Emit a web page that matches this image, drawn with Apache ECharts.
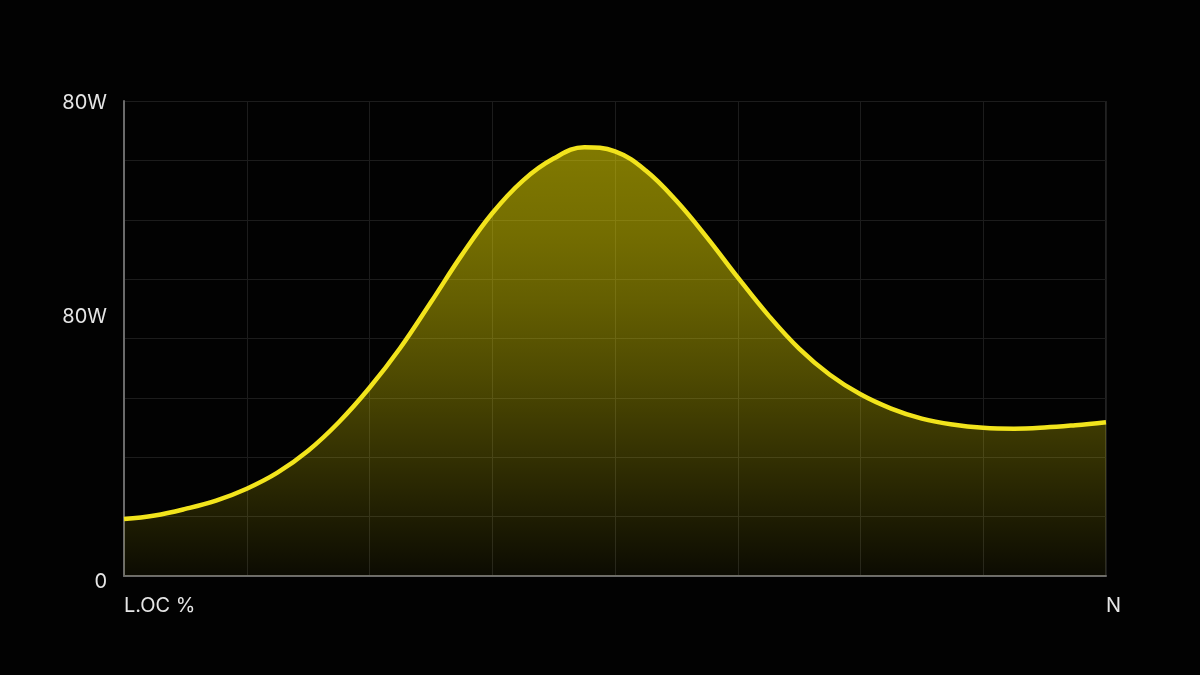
<!DOCTYPE html>
<html>
<head>
<meta charset="utf-8">
<style>
  html, body { margin: 0; padding: 0; background: #020202; }
  #chart { width: 1200px; height: 675px; }
</style>
<script src="https://cdn.jsdelivr.net/npm/echarts@6/dist/echarts.min.js"></script>
</head>
<body>
<div id="chart"></div>
<script>
// Curve points: [x position (0..100), value (0..80 scale)]
const curveX = [0, 3.125, 6.25, 9.375, 12.5, 15.625, 18.75, 21.875, 25, 28.125, 31.25, 34.375, 37.5, 40.625, 43.75, 46.875, 50, 53.125, 56.25, 59.375, 62.5, 65.625, 68.75, 71.875, 75, 78.125, 81.25, 84.375, 87.5, 90.625, 93.75, 96.875, 100];
const curveY = [9.6, 10.2, 11.3, 12.7, 14.7, 17.4, 21.1, 25.9, 31.7, 38.4, 46.1, 54.0, 61.1, 66.6, 70.3, 72.2, 71.5, 68.3, 63.2, 57.0, 50.3, 43.9, 38.3, 33.9, 30.6, 28.2, 26.5, 25.5, 24.95, 24.8, 25.0, 25.4, 25.9];

// Axis labels
const xTickValues = [0, 100];
const xTickLabels = ['L.OC %', 'N'];
const yTickValues = [0, 43.7, 79.7];
const yTickLabels = ['0', '80W', '80W'];

const data = curveX.map((x, i) => [x, curveY[i]]);

const chart = echarts.init(document.getElementById('chart'));
chart.setOption({
  backgroundColor: '#020202',
  animation: false,
  grid: { left: 124, right: 94, top: 101, bottom: 99, containLabel: false },
  xAxis: {
    type: 'value',
    min: 0, max: 100, interval: 12.5,
    axisLine: { show: true, lineStyle: { color: '#6a6a6a', width: 2 } },
    axisTick: { show: false },
    splitLine: { show: true, lineStyle: { color: '#1c1c1c', width: 1 } },
    axisLabel: {
      customValues: xTickValues,
      formatter: function (v) {
        const i = xTickValues.indexOf(v);
        return i >= 0 ? xTickLabels[i] : '';
      },
      align: 'left',
      margin: 20,
      color: '#e6e6e6',
      fontFamily: 'Inter',
      fontSize: 20
    }
  },
  yAxis: {
    type: 'value',
    min: 0, max: 80, interval: 10,
    axisLine: { show: true, lineStyle: { color: '#6a6a6a', width: 2 } },
    axisTick: { show: false },
    splitLine: { show: true, lineStyle: { color: '#1c1c1c', width: 1 } },
    axisLabel: {
      customValues: yTickValues,
      formatter: function (v) {
        const i = yTickValues.indexOf(v);
        if (i < 0) return '';
        return i === 0 ? '{z|' + yTickLabels[i] + '}' : yTickLabels[i];
      },
      rich: { z: { padding: [12, 0, 0, 0], color: '#e6e6e6', fontFamily: 'Inter', fontSize: 20 } },
      margin: 17,
      color: '#e6e6e6',
      fontFamily: 'Inter',
      fontSize: 20
    }
  },
  series: [{
    type: 'line',
    data: data,
    smooth: 0.4,
    symbol: 'none',
    clip: true,
    lineStyle: { color: '#f2e41c', width: 4.5 },
    areaStyle: {
      opacity: 1,
      color: new echarts.graphic.LinearGradient(0, 0, 0, 1, [
        { offset: 0, color: 'rgba(255,240,0,0.50)' },
        { offset: 0.2, color: 'rgba(255,240,0,0.45)' },
        { offset: 0.36, color: 'rgba(255,240,0,0.39)' },
        { offset: 0.52, color: 'rgba(255,240,0,0.31)' },
        { offset: 0.68, color: 'rgba(255,240,0,0.22)' },
        { offset: 0.85, color: 'rgba(255,240,0,0.12)' },
        { offset: 1, color: 'rgba(255,240,0,0.04)' }
      ])
    }
  }],
  graphic: [{
    type: 'line',
    shape: { x1: 1106, y1: 101, x2: 1106, y2: 576 },
    style: { stroke: '#2e2e2e', lineWidth: 1.5 },
    silent: true
  }]
});
</script>
</body>
</html>
